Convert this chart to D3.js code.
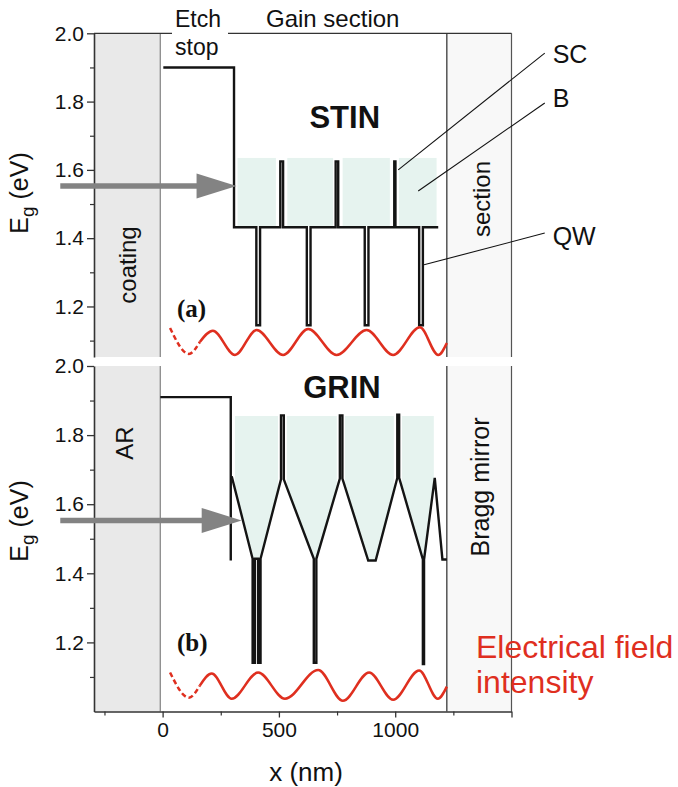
<!DOCTYPE html>
<html><head><meta charset="utf-8">
<script src="https://cdn.jsdelivr.net/npm/d3@7"></script>
<style>
body{margin:0;background:#fff}
text{font-family:"Liberation Sans",Arial,Helvetica,sans-serif}
</style>
</head><body>
<svg id="c" width="678" height="787"></svg>
<script>
// ---------------- data ----------------
const xMajorTicks = [0, 500, 1000, 1500];
const xLabelTicks = [0, 500, 1000];
const xMinorTicks = [-250, 250, 750, 1250];
const yMajorTicks = [1.2, 1.4, 1.6, 1.8, 2.0];
const yMinorTicks = [1.1, 1.3, 1.5, 1.7, 1.9];

const coatingRange = [-295, -10];   // nm
const braggRange = [1222, 1500];    // nm
const arrowEg = 1.553;
const arrowStart = -440;
const arrowTipA = 318, arrowTipB = 340;

// STIN band profile (nm, eV)
const stinProfile = [[3,1.90],[307,1.90],[307,1.432],[403,1.432],[403,1.145],[419,1.145],[419,1.432],
  [506,1.432],[506,1.625],[518,1.625],[518,1.432],[620,1.432],[620,1.145],[636,1.145],[636,1.432],
  [744,1.432],[744,1.625],[755,1.625],[755,1.432],[869,1.432],[869,1.145],[885,1.145],[885,1.432],
  [996,1.432],[996,1.625],[1001,1.625],[1001,1.432],[1103,1.432],[1103,1.145],[1119,1.145],[1119,1.432],[1185,1.432]];
// STIN barrier (B) regions: [x0, x1, Etop, Ebottom]
const stinBarriers = [[322,487,1.635,1.436],[536,733,1.635,1.436],[774,977,1.635,1.436],[1016,1178,1.635,1.436]];

// GRIN etch stop and band profile
const grinEtch = [[-10,1.91],[293,1.91],[293,1.437]];
const grinProfile = [[297,1.681],[387,1.442],[387,1.141],[397,1.141],[397,1.442],[411,1.442],[411,1.141],[421,1.141],[421,1.442],
  [509,1.672],[509,1.857],[521,1.857],[521,1.672],[650,1.442],[650,1.141],[661,1.141],[661,1.442],
  [762,1.674],[762,1.857],[773,1.857],[773,1.674],[884,1.437],[916,1.437],
  [1009,1.676],[1009,1.859],[1017,1.859],[1017,1.676],[1119,1.44],[1119,1.137],[1124,1.137],[1124,1.44],
  [1170,1.676],[1203,1.44],[1222,1.44]];
const grinBarriers = [
  [[311,1.855],[496,1.855],[496,1.638],[421,1.442],[387,1.442],[311,1.644]],
  [[534,1.855],[749,1.855],[749,1.644],[661,1.442],[650,1.442],[534,1.649]],
  [[784,1.855],[994,1.855],[994,1.637],[916,1.437],[884,1.437],[784,1.651]],
  [[1029,1.855],[1166,1.855],[1166,1.655],[1124,1.44],[1119,1.44],[1029,1.648]]
];

// Electrical field intensity (extrema)
const waveADashed = [[32,1.137],[113,1.061],[160,1.096]];
const waveASolid = [[160,1.096],[216,1.129],[311,1.058],[404,1.131],[518,1.058],[626,1.134],[748,1.058],
  [877,1.131],[991,1.058],[1106,1.139],[1185,1.058],[1222,1.093]];
const waveBDashed = [[32,1.113],[113,1.040],[160,1.075]];
const waveBSolid = [[160,1.075],[211,1.110],[297,1.037],[411,1.113],[526,1.037],[669,1.120],[775,1.031],
  [888,1.113],[991,1.034],[1103,1.119],[1183,1.037],[1222,1.072]];

// annotation leaders: [label, labelX(nm), labelBaselineEg, lineFromX, lineFromEg, lineToX, lineToEg]
const leaders = [["SC",1677,1.913,1643,1.942,1013,1.600],
                 ["B",1677,1.784,1643,1.796,1099,1.538],
                 ["QW",1677,1.380,1643,1.415,1124,1.322]];

// ---------------- layout ----------------
const svg = d3.select("#c");
const x = d3.scaleLinear().domain([-295, 1500]).range([94, 511.5]);
const yA = d3.scaleLinear().domain([1.052, 2.0]).range([357, 33.3]);
const yB = d3.scaleLinear().domain([1.0, 2.0]).range([711.5, 366]);

const axisCol = "#333";
const bandCol = "#141414";
const red = "#df2f1f";
const mint = "#e6f3ef";
const arrowCol = "#838383";
const serif = '"Liberation Serif","Times New Roman",serif';

function panel(y, top, bottom) {
  const g = svg.append("g");
  g.append("rect").attr("x", x(coatingRange[0])).attr("y", top)
    .attr("width", x(coatingRange[1]) - x(coatingRange[0])).attr("height", bottom - top)
    .attr("fill", "#e9e9e9");
  g.append("line").attr("x1", x(coatingRange[1])).attr("x2", x(coatingRange[1]))
    .attr("y1", top).attr("y2", bottom).attr("stroke", "#8a8a8a").attr("stroke-width", 1.3);
  g.append("rect").attr("x", x(braggRange[0])).attr("y", top)
    .attr("width", x(braggRange[1]) - x(braggRange[0])).attr("height", bottom - top)
    .attr("fill", "#f8f8f8");
  g.append("line").attr("x1", x(braggRange[0])).attr("x2", x(braggRange[0]))
    .attr("y1", top).attr("y2", bottom).attr("stroke", "#2a2a2a").attr("stroke-width", 1.2);
  g.append("line").attr("x1", x(braggRange[1])).attr("x2", x(braggRange[1]))
    .attr("y1", top).attr("y2", bottom).attr("stroke", "#555").attr("stroke-width", 1.2);
  const ax = g.append("g").attr("transform", `translate(${x.range()[0]},0)`)
    .call(d3.axisLeft(y).tickValues(yMajorTicks).tickFormat(d3.format(".1f")).tickSize(7).tickSizeOuter(0).tickPadding(3));
  ax.select(".domain").attr("stroke", axisCol).attr("stroke-width", 1.6);
  ax.selectAll(".tick line").attr("stroke", axisCol).attr("stroke-width", 1.3);
  ax.selectAll("text").attr("font-size", 21).attr("fill", "#111")
    .style("font-family", '"Liberation Sans",Arial,sans-serif');
  const axm = g.append("g").attr("transform", `translate(${x.range()[0]},0)`)
    .call(d3.axisLeft(y).tickValues(yMinorTicks).tickFormat("").tickSize(4).tickSizeOuter(0));
  axm.select(".domain").remove();
  axm.selectAll(".tick line").attr("stroke", axisCol).attr("stroke-width", 1.2);
  return g;
}

const gA = panel(yA, 33.3, 357);
const gB = panel(yB, 366, 711.5);

svg.append("line").attr("x1", x.range()[0]).attr("x2", x.range()[1]).attr("y1", 33.3).attr("y2", 33.3)
  .attr("stroke", axisCol).attr("stroke-width", 1.3);
svg.append("rect").attr("x", 172).attr("y", 28).attr("width", 56).attr("height", 12).attr("fill", "#fff");

const xa = svg.append("g").attr("transform", `translate(0,${yB.range()[0]})`)
  .call(d3.axisBottom(x).tickValues(xMajorTicks).tickFormat(d => xLabelTicks.includes(d) ? d : "")
    .tickSize(6).tickSizeOuter(0).tickPadding(5));
xa.select(".domain").attr("stroke", axisCol).attr("stroke-width", 1.6);
xa.selectAll(".tick line").attr("stroke", axisCol).attr("stroke-width", 1.3);
xa.selectAll("text").attr("font-size", 21).attr("fill", "#111")
  .style("font-family", '"Liberation Sans",Arial,sans-serif');
const xam = svg.append("g").attr("transform", `translate(0,${yB.range()[0]})`)
  .call(d3.axisBottom(x).tickValues(xMinorTicks).tickFormat("").tickSize(4).tickSizeOuter(0));
xam.select(".domain").remove();
xam.selectAll(".tick line").attr("stroke", axisCol).attr("stroke-width", 1.2);

// ---------- panel (a) STIN ----------
gA.selectAll("rect.bar").data(stinBarriers).enter().append("rect").attr("class", "bar")
  .attr("x", d => x(d[0])).attr("y", d => yA(d[2]))
  .attr("width", d => x(d[1]) - x(d[0])).attr("height", d => yA(d[3]) - yA(d[2]))
  .attr("fill", mint);

const lineA = d3.line().x(d => x(d[0])).y(d => yA(d[1]));
const lineB = d3.line().x(d => x(d[0])).y(d => yB(d[1]));
gA.append("path").attr("d", lineA(stinProfile)).attr("fill", "none")
  .attr("stroke", bandCol).attr("stroke-width", 2.4).attr("stroke-linejoin", "miter");

// ---------- panel (b) GRIN ----------
gB.selectAll("path.bar").data(grinBarriers).enter().append("path").attr("class", "bar")
  .attr("d", d => lineB(d) + "Z").attr("fill", mint);
gB.append("path").attr("d", lineB(grinEtch)).attr("fill", "none")
  .attr("stroke", bandCol).attr("stroke-width", 2.4);
gB.append("path").attr("d", lineB(grinProfile)).attr("fill", "none")
  .attr("stroke", bandCol).attr("stroke-width", 2.4).attr("stroke-linejoin", "miter");

// ---------- arrows ----------
function arrow(y, tip) {
  const yy = y(arrowEg), xt = x(tip), xs = x(arrowStart);
  svg.append("line").attr("x1", xs).attr("x2", xt - 38).attr("y1", yy).attr("y2", yy)
    .attr("stroke", arrowCol).attr("stroke-width", 5.5);
  svg.append("path").attr("d", `M${xt},${yy} L${xt - 40},${yy - 12.5} L${xt - 40},${yy + 12.5} Z`)
    .attr("fill", arrowCol);
}
arrow(yA, arrowTipA);
arrow(yB, arrowTipB);

// ---------- field intensity waves ----------
const wA = d3.line().x(d => x(d[0])).y(d => yA(d[1])).curve(d3.curveMonotoneX);
const wB = d3.line().x(d => x(d[0])).y(d => yB(d[1])).curve(d3.curveMonotoneX);
[[wA, waveADashed, waveASolid], [wB, waveBDashed, waveBSolid]].forEach(([w, dsh, sol]) => {
  svg.append("path").attr("d", w(dsh)).attr("fill", "none").attr("stroke", red)
    .attr("stroke-width", 2.5).attr("stroke-dasharray", "5,3");
  svg.append("path").attr("d", w(sol)).attr("fill", "none").attr("stroke", red)
    .attr("stroke-width", 2.5);
});

// ---------- texts ----------
function txt(xp, yp, s, size, opts = {}) {
  const t = svg.append("text").attr("x", xp).attr("y", yp).text(s).attr("font-size", size)
    .attr("fill", opts.fill || "#111");
  if (opts.anchor) t.attr("text-anchor", opts.anchor);
  if (opts.weight) t.attr("font-weight", opts.weight);
  if (opts.family) t.style("font-family", opts.family);
  return t;
}
txt(175, 27, "Etch", 23);
txt(175, 55, "stop", 23);
txt(266, 27, "Gain section", 24);
txt(x(783), yA(1.722), "STIN", 31, {anchor: "middle", weight: "bold"});
txt(x(771), yB(1.907), "GRIN", 31, {anchor: "middle", weight: "bold"});
txt(x(62), yA(1.168), "(a)", 25, {weight: "bold", family: serif});
txt(x(62), yB(1.175), "(b)", 25, {weight: "bold", family: serif});

function vtxt(xp, yp, s, size) {
  svg.append("text").attr("transform", `translate(${xp},${yp}) rotate(-90)`)
    .attr("text-anchor", "middle").attr("font-size", size).attr("fill", "#111").text(s);
}
vtxt(136, 265, "coating", 24);
vtxt(133, 443, "AR", 24);
vtxt(490, 199, "section", 24);
vtxt(489, 487, "Bragg mirror", 25);

[[193], [521]].forEach(([cy]) => {
  const t = svg.append("text").attr("transform", `translate(28,${cy}) rotate(-90)`)
    .attr("text-anchor", "middle").attr("font-size", 25).attr("fill", "#111");
  t.append("tspan").text("E");
  t.append("tspan").text("g").attr("font-size", 19).attr("dy", 6);
  t.append("tspan").text(" (eV)").attr("dy", -6);
});
txt(306, 781, "x (nm)", 26, {anchor: "middle"});

leaders.forEach(([lab, lx, ly, x1, y1, x2, y2]) => {
  svg.append("line").attr("x1", x(x1)).attr("y1", yA(y1)).attr("x2", x(x2)).attr("y2", yA(y2))
    .attr("stroke", "#111").attr("stroke-width", 1.1);
  txt(x(lx), yA(ly), lab, 25);
});

txt(476, 658, "Electrical field", 32, {fill: red});
txt(476, 693, "intensity", 32, {fill: red});
</script>
</body></html>
